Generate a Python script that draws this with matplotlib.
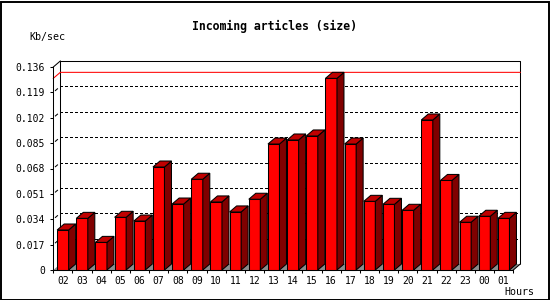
import matplotlib
matplotlib.use("Agg")
import matplotlib.pyplot as plt
from matplotlib.patches import Polygon, Rectangle

hours = ["02", "03", "04", "05", "06", "07", "08", "09", "10", "11", "12", "13",
         "14", "15", "16", "17", "18", "19", "20", "21", "22", "23", "00", "01"]
values = [0.0268, 0.0346, 0.0185, 0.0353, 0.0328, 0.0690, 0.0442, 0.0608,
          0.0456, 0.0389, 0.0474, 0.0844, 0.0871, 0.0898, 0.1284, 0.0844,
          0.0460, 0.0440, 0.0400, 0.1005, 0.0600, 0.0320, 0.0360, 0.0346]
yticks = [0, 0.017, 0.034, 0.051, 0.068, 0.085, 0.102, 0.119, 0.136]
ytick_labels = ["0", "0.017", "0.034", "0.051", "0.068", "0.085", "0.102", "0.119", "0.136"]
title = "Incoming articles (size)"
ylabel = "Kb/sec"
xlabel = "Hours"

W, H, DPI = 550, 300, 100
fig = plt.figure(figsize=(W / DPI, H / DPI), dpi=DPI)
fig.patch.set_facecolor("white")

# front plane geometry in pixels
x0_px, x1_px = 53.3, 513.3
y0_px, y1_px = 270.0, 67.0
ax = fig.add_axes([x0_px / W, (H - y0_px) / H, (x1_px - x0_px) / W, (y0_px - y1_px) / H])
n = len(hours)
ymax = yticks[-1]
ax.set_xlim(0, n)
ax.set_ylim(0, ymax)
ax.set_facecolor("none")

# depth offset (pixels -> data units)
dpx, dpy = 7.0, 6.0
dx = dpx * n / (x1_px - x0_px)
dy = dpy * ymax / (y0_px - y1_px)

lw = 0.75
mono = "DejaVu Sans Mono"

# floor
ax.add_patch(Polygon([(0, 0), (n, 0), (n + dx, dy), (dx, dy)], closed=True,
                     facecolor="#8c8c8c", edgecolor="none", zorder=1, clip_on=False))
# back box
ax.plot([dx, dx, n + dx, n + dx], [dy, ymax + dy, ymax + dy, dy], color="black",
        lw=lw, zorder=2, clip_on=False, solid_capstyle="butt")
ax.plot([0, dx], [ymax, ymax + dy], color="black", lw=lw, zorder=2, clip_on=False)
ax.plot([n, n + dx], [0, dy], color="black", lw=lw, zorder=2, clip_on=False)

# gridlines on back wall and small marks on left wall
for v in yticks[1:-1]:
    ax.plot([dx, n + dx], [v + dy, v + dy], color="black", lw=lw,
            linestyle=(0, (2, 2)), zorder=2, clip_on=False, antialiased=False)
    ax.plot([0.3 * dx, 0.6 * dx], [v + 0.3 * dy, v + 0.6 * dy], color="black",
            lw=lw, zorder=2, clip_on=False)

# max line
vmax = max(values)
ax.plot([0, dx, n + dx], [vmax, vmax + dy, vmax + dy], color="#ff0000", lw=lw,
        zorder=2.5, clip_on=False)

# bars
off, bw = 0.2, 0.6
for i, v in enumerate(values):
    xl = i + off
    xr = xl + bw
    ax.add_patch(Rectangle((xl, 0), bw, v, facecolor="#ff0000", edgecolor="black",
                           lw=lw, zorder=3 + i * 0.01, clip_on=False))
    ax.add_patch(Polygon([(xr, 0), (xr + dx, dy), (xr + dx, v + dy), (xr, v)], closed=True,
                         facecolor="#800000", edgecolor="black", lw=lw,
                         zorder=3 + i * 0.01, clip_on=False))
    ax.add_patch(Polygon([(xl, v), (xr, v), (xr + dx, v + dy), (xl + dx, v + dy)], closed=True,
                         facecolor="#c00000", edgecolor="black", lw=lw,
                         zorder=3 + i * 0.01, clip_on=False))

# axes / ticks
for s in ["top", "right"]:
    ax.spines[s].set_visible(False)
for s in ["left", "bottom"]:
    ax.spines[s].set_linewidth(lw)
    ax.spines[s].set_zorder(4)
ax.set_yticks(yticks)
ax.set_yticklabels(ytick_labels, fontfamily=mono, fontsize=7)
ax.tick_params(axis="y", length=2.3, width=lw, pad=3.6, direction="out")
ax.set_xticks([i + 0.5 for i in range(n)])
ax.set_xticklabels(hours, fontfamily=mono, fontsize=7)
ax.set_xticks(list(range(n + 1)), minor=True)
ax.tick_params(axis="x", which="major", length=0, pad=4.5)
ax.tick_params(axis="x", which="minor", length=2.3, width=lw, direction="out")

fig.text(0.5, 1 - 26.7 / H, title, ha="center", va="center", fontfamily=mono,
         fontweight="bold", fontsize=8.3)
fig.text(29.3 / W, 1 - 36.7 / H, ylabel, ha="left", va="center", fontfamily=mono, fontsize=7.2)
fig.text(534 / W, 1 - 292 / H, xlabel, ha="right", va="center", fontfamily=mono, fontsize=7.2)

# outer frame
fig.patches.append(Rectangle((0.5 / W, 0.5 / H), (W - 2) / W, (H - 2) / H,
                             transform=fig.transFigure, fill=False, edgecolor="black",
                             lw=1.4, zorder=10))

fig.savefig("out.png", dpi=DPI)
